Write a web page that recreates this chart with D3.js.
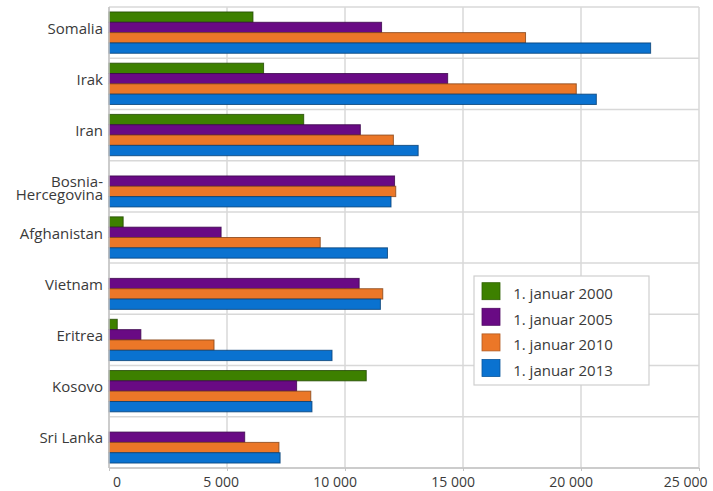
<!DOCTYPE html>
<html>
<head>
<meta charset="utf-8">
<script src="https://cdn.jsdelivr.net/npm/d3@7"></script>
<style>
  body { margin: 0; background: #fff; }
  text { font-family: "Open Sans", sans-serif; fill: #3a3a3a; }
</style>
</head>
<body>
<svg id="chart" width="713" height="491"></svg>
<script>
// Countries (top to bottom); a hyphenated name wraps after the hyphen
const countries = ["Somalia", "Irak", "Iran", "Bosnia-Hercegovina", "Afghanistan",
                   "Vietnam", "Eritrea", "Kosovo", "Sri Lanka"];

const seriesNames = ["1. januar 2000", "1. januar 2005", "1. januar 2010", "1. januar 2013"];

// Persons per country at each date (null = no value)
const jan2000 = [6100, 6550, 8250, null, 600, null, 350, 10900, null];
const jan2005 = [11550, 14350, 10650, 12100, 4750, 10600, 1350, 7950, 5750];
const jan2010 = [17650, 19800, 12050, 12150, 8950, 11600, 4450, 8550, 7200];
const jan2013 = [22950, 20650, 13100, 11950, 11800, 11500, 9450, 8600, 7250];

const xTicks = [0, 5000, 10000, 15000, 20000, 25000];
const seriesColors = ["#3d8000", "#690a84", "#eb7728", "#0a72d0"];

const seriesValues = [jan2000, jan2005, jan2010, jan2013];

const svg = d3.select("#chart");
const margin = { top: 7, right: 14, bottom: 23, left: 109 };
const W = +svg.attr("width"), H = +svg.attr("height");
const plotW = W - margin.left - margin.right;
const plotH = H - margin.top - margin.bottom;

const x = d3.scaleLinear().domain([0, 25000]).range([0, plotW]);
const y = d3.scaleBand().domain(countries).range([0, plotH]).padding(0);
const ySub = d3.scaleBand().domain(seriesNames).range([0, y.bandwidth()])
  .paddingInner(0).paddingOuter(0.48);
const color = d3.scaleOrdinal().domain(seriesNames).range(seriesColors);

const g = svg.append("g").attr("transform", `translate(${margin.left},${margin.top})`);

// grid: vertical at value ticks, horizontal at category boundaries
g.append("g").selectAll("line").data(xTicks).join("line")
  .attr("x1", d => x(d)).attr("x2", d => x(d))
  .attr("y1", 0).attr("y2", plotH)
  .attr("stroke", "#d8d8d8").attr("stroke-width", 1.5);
const bounds = countries.map(c => y(c)).concat([plotH]);
g.append("g").selectAll("line").data(bounds).join("line")
  .attr("x1", 0).attr("x2", plotW)
  .attr("y1", d => d).attr("y2", d => d)
  .attr("stroke", "#d8d8d8").attr("stroke-width", 1.5);

// bars
const rows = countries.map((c, i) => ({
  country: c,
  values: seriesNames.map((s, j) => ({ series: s, value: seriesValues[j][i] }))
}));
const groups = g.append("g").selectAll("g").data(rows).join("g")
  .attr("transform", d => `translate(0,${y(d.country)})`);
groups.selectAll("rect").data(d => d.values.filter(v => v.value != null)).join("rect")
  .attr("x", x(0))
  .attr("y", d => ySub(d.series))
  .attr("width", d => x(d.value) - x(0))
  .attr("height", ySub.bandwidth())
  .attr("fill", d => color(d.series))
  .attr("stroke", d => d3.color(color(d.series)).darker(1.6))
  .attr("stroke-opacity", 0.8)
  .attr("stroke-width", 1);

// axes lines
g.append("line").attr("x1", 0).attr("x2", 0).attr("y1", 0).attr("y2", plotH)
  .attr("stroke", "#c4c4c4").attr("stroke-width", 1.5);
g.append("line").attr("x1", 0).attr("x2", plotW).attr("y1", plotH).attr("y2", plotH)
  .attr("stroke", "#c4c4c4").attr("stroke-width", 1.5);

// bottom axis
const fmt = v => d3.format(",")(v).replace(/,/g, "\u00a0");
const xAxis = d3.axisBottom(x).tickValues(xTicks).tickFormat(fmt).tickSize(3).tickPadding(4);
const ax = g.append("g").attr("transform", `translate(0,${plotH})`).call(xAxis);
ax.select(".domain").remove();
ax.selectAll(".tick line").attr("stroke", "#c4c4c4");
ax.selectAll(".tick text")
  .attr("font-size", 14)
  .attr("font-family", "Open Sans, sans-serif")
  .attr("fill", "#3a3a3a")
  .attr("text-anchor", "end")
  .attr("dy", "0.85em")
  .attr("x", function (d) { return Math.min(11.5, plotW + 8 - x(d)); });

// category labels
const labels = g.append("g").selectAll("text").data(countries).join("text")
  .attr("text-anchor", "end")
  .attr("font-size", 15)
  .attr("x", -6)
  .attr("y", d => y(d) + y.bandwidth() / 2 + 1);
labels.each(function (d) {
  const parts = d.includes("-") ? [d.slice(0, d.indexOf("-") + 1), d.slice(d.indexOf("-") + 1)] : [d];
  const t = d3.select(this);
  parts.forEach((p, i) => {
    t.append("tspan").attr("x", -6).attr("dy", i === 0 ? 0 : 13).text(p);
  });
});

// legend
const legend = svg.append("g").attr("transform", "translate(474,276)");
legend.append("rect").attr("width", 175).attr("height", 109)
  .attr("fill", "#fff").attr("stroke", "#cfcfcf").attr("stroke-width", 1.2);
const li = legend.selectAll("g").data(seriesNames).join("g")
  .attr("transform", (d, i) => `translate(8,${6.7 + i * 25.6})`);
li.append("rect").attr("width", 18).attr("height", 17)
  .attr("fill", d => color(d))
  .attr("stroke", d => d3.color(color(d)).darker(0.8)).attr("stroke-width", 0.8);
li.append("text").attr("x", 81).attr("y", 16.5)
  .attr("text-anchor", "middle").attr("font-size", 15).text(d => d);
</script>
</body>
</html>
